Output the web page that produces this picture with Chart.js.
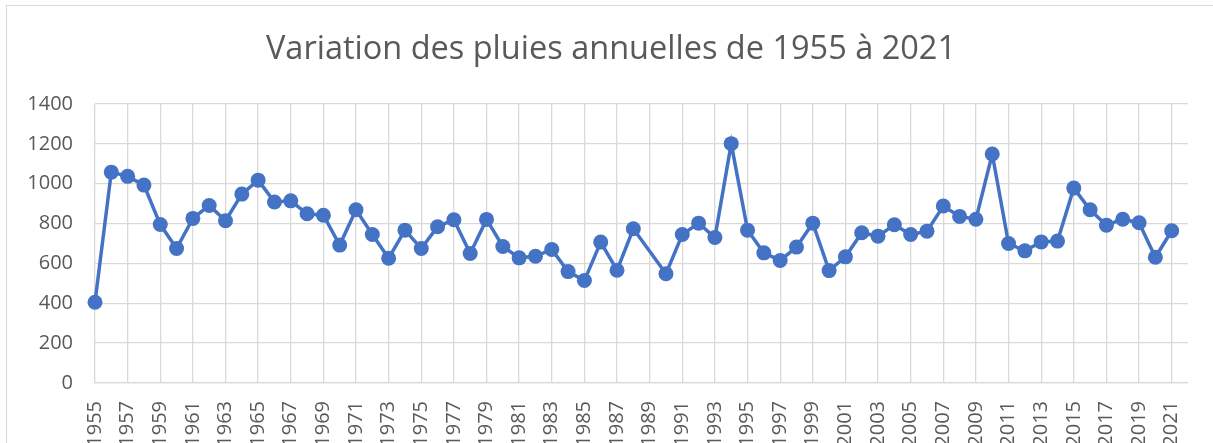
<!DOCTYPE html>
<html>
<head>
<meta charset="utf-8">
<script src="https://cdn.jsdelivr.net/npm/chart.js@4/dist/chart.umd.min.js"></script>
<style>
    html, body { margin: 0; padding: 0; overflow: hidden; background: #fff; }
    #cadre { position: absolute; left: 6px; top: 5px; width: 1300px; height: 500px; border-left: 1px solid #d9d9d9; border-top: 1px solid #d9d9d9; }
    #graficoPluies { position: absolute; left: 0; top: 0; }
</style>
</head>
<body>
<div id="cadre"></div>
<canvas id="graficoPluies" width="1213" height="443"></canvas>
<script>
// Années (1955 à 2022, la dernière sans valeur, comme l'axe d'origine)
const annees = [];
for (let a = 1955; a <= 2022; a++) annees.push(String(a));

// Pluies annuelles (mm); 1989 manquant
const pluies = [
    405, 1058, 1037, 993, 795, 675, 826, 891, 814, 948,   // 1955-1964
    1018, 908, 914, 849, 842, 692, 869, 745, 626, 767,    // 1965-1974
    675, 784, 819, 650, 821, 685, 628, 636, 670, 559,     // 1975-1984
    514, 707, 566, 774, null, 548, 745, 802, 730, 1201,   // 1985-1994
    767, 653, 615, 682, 802, 564, 633, 754, 737, 794,     // 1995-2004
    745, 762, 888, 836, 822, 1149, 700, 663, 708, 712,    // 2005-2014
    978, 869, 792, 822, 804, 631, 764, null               // 2015-2022
];

const ticksY = [0, 200, 400, 600, 800, 1000, 1200, 1400];

const titre = 'Variation des pluies annuelles de 1955 à 2021';
const texteGris = '#595959';
const grille = '#d9d9d9';

// Titre centré sur le cadre (et non sur la zone du graphique)
const pluginTitre = {
    id: 'titreCadre',
    afterDraw: function (chart) {
        const ctx = chart.ctx;
        ctx.save();
        ctx.font = '32.5px "Open Sans"';
        ctx.fillStyle = texteGris;
        ctx.textAlign = 'center';
        ctx.textBaseline = 'alphabetic';
        ctx.fillText(titre, 611, 59);
        ctx.restore();
    }
};

new Chart(document.getElementById('graficoPluies'), {
    type: 'line',
    data: {
        labels: annees,
        datasets: [{
            label: 'Pluies annuelles',
            data: pluies,
            borderColor: '#4472C4',
            backgroundColor: '#4472C4',
            borderWidth: 3.5,
            pointRadius: 7.5,
            pointBorderWidth: 0,
            pointBackgroundColor: '#4472C4',
            tension: 0,
            spanGaps: true,
            clip: false
        }]
    },
    plugins: [pluginTitre],
    options: {
        responsive: false,
        animation: false,
        devicePixelRatio: 1,
        layout: { padding: { left: 0, right: 25, top: 104, bottom: 0 } },
        plugins: {
            legend: { display: false },
            tooltip: { enabled: false },
            title: { display: false }
        },
        scales: {
            x: {
                offset: false,
                grid: { color: grille, lineWidth: 1.3, drawTicks: false },
                border: { color: grille, width: 1.3 },
                ticks: {
                    autoSkip: false,
                    maxRotation: 90,
                    minRotation: 90,
                    padding: 18,
                    color: texteGris,
                    font: { family: 'Open Sans', size: 20 },
                    callback: function (val, i) {
                        return i % 2 === 0 ? annees[i] : null;
                    }
                },
                afterFit: function (scale) {
                    scale.height = 60;
                    scale.paddingLeft = 0;
                    scale.paddingRight = 0;
                }
            },
            y: {
                min: 0,
                max: 1400,
                afterBuildTicks: function (scale) {
                    scale.ticks = ticksY.map(v => ({ value: v }));
                },
                grid: { color: grille, lineWidth: 1.3, drawTicks: false },
                border: { display: false },
                ticks: {
                    padding: 22,
                    color: texteGris,
                    font: { family: 'Open Sans', size: 20 },
                    callback: function (v) { return String(v); }
                },
                afterFit: function (scale) { scale.width = 95; }
            }
        }
    }
});
</script>
</body>
</html>
